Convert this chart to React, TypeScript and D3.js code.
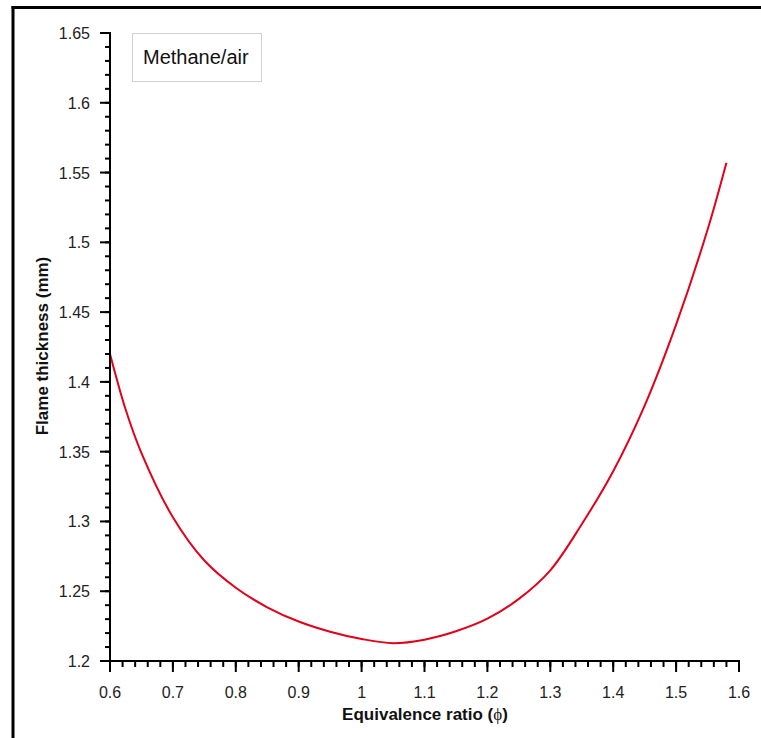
import React from "react";
import * as d3 from "d3";

const phi = [0.6, 0.625, 0.65, 0.7, 0.75, 0.8, 0.85, 0.9, 0.95, 1.0, 1.05, 1.1, 1.15, 1.2, 1.25, 1.3, 1.35, 1.4, 1.45, 1.5, 1.55, 1.58];
const thickness = [1.42, 1.38, 1.349, 1.303, 1.272, 1.2525, 1.2385, 1.2283, 1.221, 1.2158, 1.2128, 1.2153, 1.2213, 1.2303, 1.2445, 1.265, 1.298, 1.336, 1.383, 1.441, 1.509, 1.557];
const xTicks = [0.6, 0.7, 0.8, 0.9, 1, 1.1, 1.2, 1.3, 1.4, 1.5, 1.6];
const yTicks = [1.2, 1.25, 1.3, 1.35, 1.4, 1.45, 1.5, 1.55, 1.6, 1.65];
const legendLabel = "Methane/air";

export default function App() {
  const x = d3.scaleLinear().domain([0.6, 1.6]).range([110, 739]);
  const y = d3.scaleLinear().domain([1.2, 1.65]).range([661, 33]);
  const xMinor = d3.range(0, 51).map((i) => 0.6 + i * 0.02);
  const yMinor = d3.range(0, 46).map((i) => 1.2 + i * 0.01);
  const line = d3
    .line<number>()
    .x((_, i) => x(phi[i]))
    .y((d) => y(d))
    .curve(d3.curveCatmullRom.alpha(0.5));
  const font = "'Liberation Sans', Arial, sans-serif";
  return (
    <svg
      width={761}
      height={738}
      style={{ position: "absolute", left: 0, top: 0, background: "#fff" }}
    >
      <rect x={0} y={0} width={761} height={738} fill="#fff" />
      {/* outer frame */}
      <line x1={11.5} y1={7.5} x2={761} y2={7.5} stroke="#000" strokeWidth={3} />
      <line x1={13} y1={6} x2={13} y2={738} stroke="#000" strokeWidth={3} />

      {/* legend */}
      <rect x={132.5} y={33.5} width={129} height={48} fill="#fff" stroke="#d0d0d0" strokeWidth={1} />
      <text x={143} y={64} fontFamily={font} fontSize={20} fill="#111">
        {legendLabel}
      </text>

      {/* curve */}
      <path d={line(thickness) || ""} fill="none" stroke="#e2001a" strokeWidth={2} />

      {/* axes */}
      <line x1={110} y1={32} x2={110} y2={662} stroke="#000" strokeWidth={2} />
      <line x1={109} y1={661} x2={740} y2={661} stroke="#000" strokeWidth={2} />
      {yMinor.map((v, i) => (
        <line key={"ym" + i} x1={105} x2={110} y1={y(v)} y2={y(v)} stroke="#000" strokeWidth={2} />
      ))}
      {yTicks.map((v) => (
        <g key={"y" + v}>
          <line x1={100} x2={110} y1={y(v)} y2={y(v)} stroke="#000" strokeWidth={2} />
          <text x={90} y={y(v) + 6} textAnchor="end" fontFamily={font} fontSize={16} fill="#222">
            {String(v)}
          </text>
        </g>
      ))}
      {xMinor.map((v, i) => (
        <line key={"xm" + i} x1={x(v)} x2={x(v)} y1={661} y2={667} stroke="#000" strokeWidth={2} />
      ))}
      {xTicks.map((v) => (
        <g key={"x" + v}>
          <line x1={x(v)} x2={x(v)} y1={661} y2={672} stroke="#000" strokeWidth={2} />
          <text x={x(v)} y={698} textAnchor="middle" fontFamily={font} fontSize={16} fill="#222">
            {String(v)}
          </text>
        </g>
      ))}

      {/* axis titles */}
      <text x={425} y={720} textAnchor="middle" fontFamily={font} fontSize={17} fontWeight="bold" fill="#111">
        Equivalence ratio (
        <tspan fontFamily="'Liberation Serif', serif" fontWeight="normal">ϕ</tspan>)
      </text>
      <text
        transform="translate(48,346) rotate(-90)"
        textAnchor="middle"
        fontFamily={font}
        fontSize={17}
        fontWeight="bold"
        fill="#111"
      >
        Flame thickness (mm)
      </text>
    </svg>
  );
}
